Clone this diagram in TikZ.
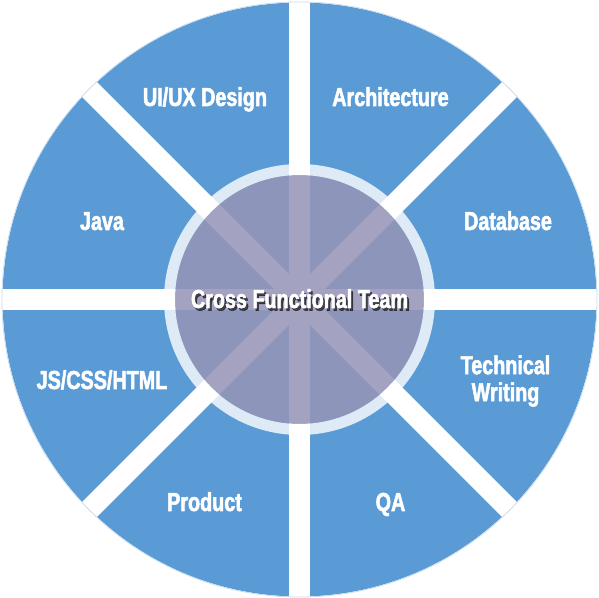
\documentclass[tikz,border=0pt]{standalone}
\usepackage{xcolor}
\usepackage{fontspec}
\newfontfamily\labelfont{Liberation Sans}[FakeStretch=0.76,FakeBold=2]
\definecolor{petal}{HTML}{5B9BD5}
\definecolor{hub}{RGB}{150,149,184}
\definecolor{rim}{HTML}{C9DCF0}

\begin{document}
\begin{tikzpicture}[x=0.5pt,y=0.5pt,
    lbl/.style={text=white,inner sep=0pt,anchor=base,
      font=\labelfont\bfseries\fontsize{13}{13.5}\selectfont},
    gap/.style={white,line width=10.5pt}]
  \useasboundingbox (-299.5,-298.5) rectangle (299.5,299.5);
  % outer wheel
  \fill[petal] (0,0) circle (297);
  \foreach \a in {0,45,90,135}
    \draw[gap] (\a:305) -- (\a+180:305);
  \draw[rim,line width=0.4pt] (0,0) circle (297.5);
  % hub
  \fill[hub,opacity=0.87] (0,0) circle (124.5);
  \draw[white,opacity=0.8,line width=5.5pt] (0,0) circle (130);
  % labels
  \node[lbl] (uiux) at (-94.5,193.5) {UI/UX Design};
  \node[lbl] (arch) at (91,193.5) {Architecture};
  \node[lbl] (java) at (-197.5,69.5) {Java};
  \node[lbl] (db) at (208.5,69.5) {Database};
  \node[lbl] (web) at (-197.5,-89.5) {JS/CSS/HTML};
  \node[lbl,anchor=center,align=center] (tech) at (206,-81.5) {Technical\\Writing};
  \node[lbl] (product) at (-95,-211.5) {Product};
  \node[lbl] (qa) at (91,-211.5) {QA};
  \node[lbl,text=black,opacity=0.6] (teamshadow) at (2,-11) {Cross Functional Team};
  \node[lbl] (team) at (0,-8.5) {Cross Functional Team};
\end{tikzpicture}
\end{document}
